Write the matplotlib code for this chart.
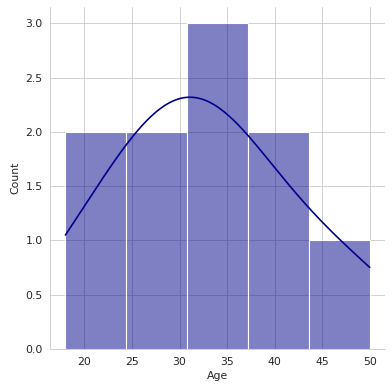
import matplotlib
matplotlib.use("Agg")
import matplotlib.pyplot as plt
import seaborn as sns
import pandas as pd

# ages (bin counts 2, 2, 3, 2, 1)
ages = [18, 23, 26, 29, 31, 33, 35, 39, 43, 50]
df = pd.DataFrame({"Age": ages})

sns.set_style("whitegrid")
g = sns.displot(df, x="Age", kde=True, bins=5, color="darkblue", height=5)
g.figure.subplots_adjust(left=0.128, right=0.982, bottom=0.11, top=0.982)
g.figure.savefig("out.png", dpi=78.4)
